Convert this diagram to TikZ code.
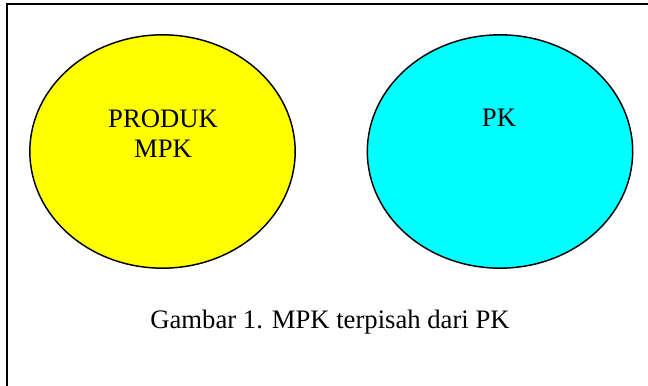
\documentclass[tikz,border=0pt]{standalone}
\usepackage{fontspec}
\setmainfont{Liberation Serif}
\usetikzlibrary{shapes.geometric}

\definecolor{kuning}{RGB}{255,255,0}
\definecolor{sian}{RGB}{0,255,255}

\tikzset{
  lingkaran/.style={ellipse, draw, line width=1.1pt, minimum width=199pt, minimum height=175pt, inner sep=0pt},
  teks/.style={font=\fontsize{20}{22.5}\selectfont, align=center, inner sep=0pt}
}

\begin{document}
\begin{tikzpicture}[x=0.75pt, y=-0.75pt]
  \useasboundingbox (0,0) rectangle (648,385);
  \clip (0,0) rectangle (648,385);

  % bingkai
  \draw[line width=1.5pt] (6.5,4.5) rectangle (660,395);

  % dua lingkaran
  \node[lingkaran, fill=kuning] (produk) at (162.5,151.5) {};
  \node[lingkaran, fill=sian] (pk) at (500,151.5) {};

  % label
  \node[teks, anchor=base] (label produk) at (163,157) {PRODUK\\MPK};
  \node[teks, anchor=base] (label pk) at (499,126) {PK};
  \node[teks, anchor=base] (judul) at (330,328) {Gambar 1. MPK terpisah dari PK};
\end{tikzpicture}
\end{document}
